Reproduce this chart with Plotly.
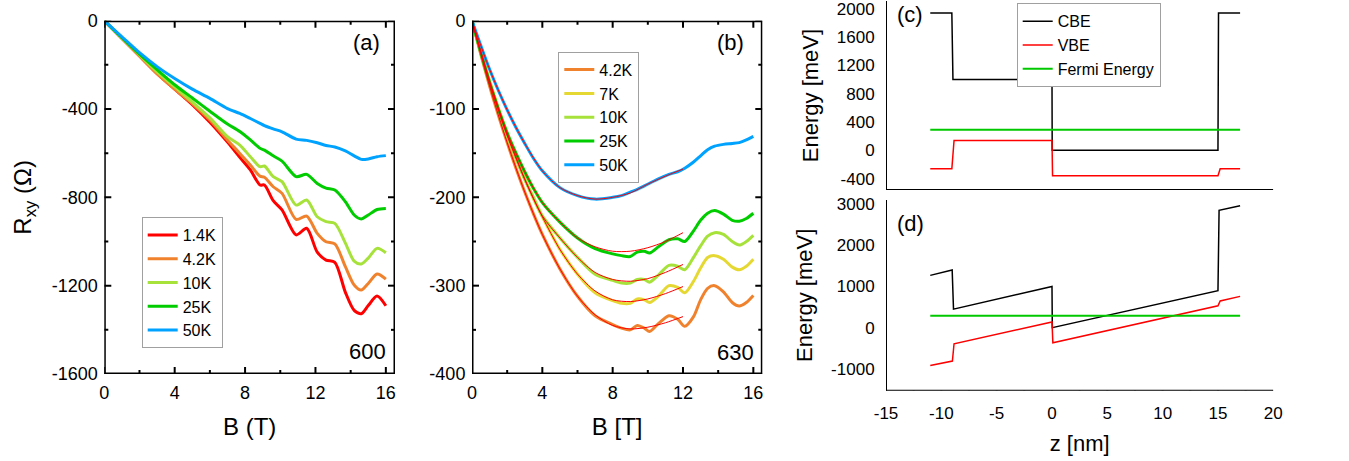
import plotly.graph_objects as go

FONT = "Liberation Sans, Arial, Helvetica, sans-serif"

# ---------------- Panel (a): sample 600 ----------------
B_a = [0, 1, 2, 3, 4, 5, 6, 7, 7.7, 8.3, 8.85, 9.1, 9.6, 10.1, 10.9, 11.5, 12.1,
       12.6, 13.1, 13.7, 14.2, 14.6, 15.0, 15.5, 16]
R_a_1p4K = [0, -80, -160, -240, -310, -380, -460, -550, -619, -676, -744, -744, -815,
            -857, -970, -940, -1048, -1084, -1094, -1230, -1312, -1327, -1290, -1247, -1291]
R_a_4p2K = [0, -80, -160, -240, -310, -375, -450, -540, -601, -654, -704, -709, -752,
            -782, -900, -885, -963, -1001, -1011, -1114, -1197, -1220, -1190, -1147, -1170]
R_a_10K = [0, -78, -155, -232, -300, -368, -440, -525, -563, -616, -661, -658, -706,
           -729, -835, -812, -888, -910, -918, -1007, -1089, -1102, -1075, -1031, -1051]
R_a_25K = [0, -77, -152, -222, -290, -350, -410, -468, -502, -540, -578, -586, -612,
           -636, -706, -696, -737, -758, -767, -820, -880, -898, -880, -855, -850]
R_a_50K = [0, -73, -145, -208, -262, -310, -352, -398, -420, -443, -465, -475, -490,
           -503, -536, -542, -553, -565, -572, -590, -612, -628, -626, -616, -611]
labels_a = ["1.4K", "4.2K", "10K", "25K", "50K"]
colors_a = ["#ff0000", "#f0822e", "#a6e23a", "#00cc00", "#00a2ff"]

# ---------------- Panel (b): sample 630 ----------------
B_b = [0, 0.5, 1, 1.5, 2, 2.5, 3, 3.5, 4, 5, 6, 7, 8, 8.5, 9, 9.4, 9.8, 10.1, 10.6,
       11.2, 11.7, 12.1, 12.6, 13, 13.4, 13.8, 14.3, 14.8, 15.2, 15.6, 16]
R_b_4p2K = [0, -38, -74, -107, -138, -167, -194, -219, -242, -281, -312, -334, -344,
            -348, -350, -345, -348, -352, -343, -334, -338, -346, -335, -316, -303, -300,
            -307, -319, -323, -319, -311]
R_b_7K = [0, -35, -68, -99, -128, -155, -179, -202, -222, -259, -287, -308, -317,
          -320, -320, -315, -316, -319, -312, -300, -302, -308, -295, -280, -268, -266,
          -270, -279, -282, -278, -270]
R_b_10K = [0, -36, -70, -101, -130, -156, -180, -200, -221, -246, -268, -287, -294,
           -297, -297, -293, -293, -296, -288, -277, -278, -282, -268, -255, -244, -240,
           -242, -250, -254, -250, -243]
R_b_25K = [0, -36, -70, -100, -127, -150, -171, -190, -206, -228, -246, -258, -264,
           -266, -267, -262, -261, -263, -256, -248, -247, -250, -238, -226, -218, -215,
           -219, -226, -227, -224, -218]
R_b_50K = [0, -28, -55, -79, -101, -121, -139, -156, -170, -189, -198, -202, -200,
           -198, -194, -191, -187, -184, -179, -174, -171, -167, -160, -153, -146, -142,
           -140, -139, -138, -135, -131]
labels_b = ["4.2K", "7K", "10K", "25K", "50K"]
colors_b = ["#f0822e", "#e6d832", "#a6e23a", "#00cc00", "#00a2ff"]

# fits (thin red lines) for panel (b)
B_fit = [0, 1, 2, 3, 4, 5, 6, 7, 8, 9, 10, 11, 12]
fit_4p2K = [0, -74, -138, -194, -242, -281, -312, -333, -345, -349, -347, -342, -335]
fit_7K = [0, -68, -128, -179, -222, -259, -287, -306, -316, -318, -315, -309, -301]
fit_10K = [0, -70, -130, -180, -221, -246, -268, -285, -293, -295, -292, -285, -276]
fit_25K = [0, -70, -127, -171, -206, -228, -246, -256, -261, -261, -257, -250, -240]
fit_50K = [0, -55, -101, -139, -170, -189, -198, -202, -200, -195, -185, -176, -168]

# ---------------- Panel (c): band edges, flat ----------------
z_c_cbe = [-11, -9.05, -8.95, 0, 0.02, 15, 15.05, 17]
E_c_cbe = [1940, 1940, 1000, 1000, 0, 0, 1940, 1940]
z_c_vbe = [-11, -9.05, -8.85, 0, 0.05, 15, 15.2, 17]
E_c_vbe = [-260, -260, 140, 140, -360, -360, -260, -260]
z_fermi = [-11, 17]
E_fermi = [290, 290]

# ---------------- Panel (d): band edges, with field ----------------
z_d_cbe = [-11, -9.02, -8.9, 0, 0.03, 15, 15.1, 17]
E_d_cbe = [1270, 1400, 450, 1000, 0, 900, 2850, 2960]
z_d_vbe = [-11, -9.0, -8.85, 0, 0.08, 15, 15.2, 17]
E_d_vbe = [-920, -810, -390, 140, -365, 530, 650, 760]

band_labels = ["CBE", "VBE", "Fermi Energy"]
band_colors = ["#000000", "#ff0000", "#00c800"]

# tick values / labels
ticks_a_x = [0, 4, 8, 12, 16]
minor_a_x = [2, 6, 10, 14]
ticks_a_y = [0, -400, -800, -1200, -1600]
minor_a_y = [-200, -600, -1000, -1400]
ticks_b_y = [0, -100, -200, -300, -400]
minor_b_y = [-50, -150, -250, -350]
ticks_c_y = [2000, 1600, 1200, 800, 400, 0, -400]
minor_c_y = [1800, 1400, 1000, 600, 200, -200]
ticks_d_y = [3000, 2000, 1000, 0, -1000]
minor_d_y = [2500, 1500, 500, -500, -1500]
ticks_z = [-15, -10, -5, 0, 5, 10, 15, 20]
minor_z = [-12.5, -7.5, -2.5, 2.5, 7.5, 12.5, 17.5]

# axis ranges
rng_a_x = [0, 16.52]
rng_a_y = [-1600, 0]
rng_b_x = [0, 16.51]
rng_b_y = [-400, 0]
rng_z = [-15, 20]
rng_c_y = [-560, 2110]
rng_d_y = [-1530, 3100]


def lab(v):
    return [str(t) for t in v]


W, H = 1349, 461
ya_dom = [1 - 374 / H, 1 - 20.7 / H]
xa_dom = [104.3 / W, 395 / W]
xb_dom = [472 / W, 762.3 / W]
xc_dom = [886 / W, 1273.3 / W]
yc_dom = [1 - 190 / H, 1 - 1 / H]
yd_dom = [1 - 390.7 / H, 1 - 200 / H]

fig = go.Figure()

for R, name, col in zip([R_a_1p4K, R_a_4p2K, R_a_10K, R_a_25K, R_a_50K], labels_a, colors_a):
    fig.add_trace(go.Scatter(x=B_a, y=R, mode="lines", name=name,
                             line=dict(color=col, width=3, shape="spline", smoothing=0.8),
                             xaxis="x", yaxis="y", legend="legend"))

for R, name, col in zip([R_b_4p2K, R_b_7K, R_b_10K, R_b_25K, R_b_50K], labels_b, colors_b):
    fig.add_trace(go.Scatter(x=B_b, y=R, mode="lines", name=name,
                             line=dict(color=col, width=3, shape="spline", smoothing=0.8),
                             xaxis="x2", yaxis="y2", legend="legend2"))
for F in [fit_4p2K, fit_7K, fit_10K, fit_25K, fit_50K]:
    fig.add_trace(go.Scatter(x=B_fit, y=F, mode="lines", showlegend=False,
                             line=dict(color="#ff0000", width=1, shape="spline", smoothing=0.8),
                             xaxis="x2", yaxis="y2", legend="legend2"))

for (zz, ee), name, col in zip([(z_c_cbe, E_c_cbe), (z_c_vbe, E_c_vbe), (z_fermi, E_fermi)],
                               band_labels, band_colors):
    fig.add_trace(go.Scatter(x=zz, y=ee, mode="lines", name=name,
                             line=dict(color=col, width=2 if col == "#00c800" else 1.5),
                             xaxis="x3", yaxis="y3", legend="legend3"))
for (zz, ee), col in zip([(z_d_cbe, E_d_cbe), (z_d_vbe, E_d_vbe), (z_fermi, E_fermi)], band_colors):
    fig.add_trace(go.Scatter(x=zz, y=ee, mode="lines", showlegend=False,
                             line=dict(color=col, width=2 if col == "#00c800" else 1.5),
                             xaxis="x4", yaxis="y4", legend="legend3"))


# ---- axis frames and tick marks, drawn as line traces on each axis pair ----
def frame_traces(xa, ya, xr, yr, xdom, ydom, xt, xm, yt, ym, boxed, legend_id):
    ux = (xr[1] - xr[0]) / ((xdom[1] - xdom[0]) * W)   # data units per pixel (x)
    uy = (yr[1] - yr[0]) / ((ydom[1] - ydom[0]) * H)   # data units per pixel (y)
    fx, fy = [], []
    if boxed:
        fx += [xr[0], xr[1], xr[1], xr[0], xr[0], None]
        fy += [yr[0], yr[0], yr[1], yr[1], yr[0], None]
    else:
        fx += [xr[0], xr[0], None, xr[0], xr[1], None]
        fy += [yr[1], yr[0], None, yr[0], yr[0], None]
    tx, ty = [], []
    big, small = (7, 4) if boxed else (6, 3)
    for vals, L in ((xt, big), (xm, small)):
        for v in vals:
            if boxed:
                tx += [v, v, None, v, v, None]
                ty += [yr[0], yr[0] + L * uy, None, yr[1], yr[1] - L * uy, None]
            else:
                tx += [v, v, None]
                ty += [yr[0], yr[0] - L * uy, None]
    for vals, L in ((yt, big), (ym, small)):
        for v in vals:
            if boxed:
                tx += [xr[0], xr[0] + L * ux, None, xr[1], xr[1] - L * ux, None]
                ty += [v, v, None, v, v, None]
            else:
                tx += [xr[0], xr[0] - L * ux, None]
                ty += [v, v, None]
    fig.add_trace(go.Scatter(x=fx, y=fy, mode="lines", showlegend=False, hoverinfo="skip",
                             line=dict(color="black", width=3 if boxed else 2),
                             cliponaxis=False, xaxis=xa, yaxis=ya, legend=legend_id))
    fig.add_trace(go.Scatter(x=tx, y=ty, mode="lines", showlegend=False, hoverinfo="skip",
                             line=dict(color="black", width=2),
                             cliponaxis=False, xaxis=xa, yaxis=ya, legend=legend_id))


frame_traces("x", "y", rng_a_x, rng_a_y, xa_dom, ya_dom, ticks_a_x, minor_a_x,
             ticks_a_y, minor_a_y, True, "legend")
frame_traces("x2", "y2", rng_b_x, rng_b_y, xb_dom, ya_dom, ticks_a_x, minor_a_x,
             ticks_b_y, minor_b_y, True, "legend2")
frame_traces("x3", "y3", rng_z, rng_c_y, xc_dom, yc_dom, ticks_z, minor_z,
             ticks_c_y, minor_c_y, False, "legend3")
frame_traces("x4", "y4", rng_z, rng_d_y, xc_dom, yd_dom, ticks_z, minor_z,
             ticks_d_y, minor_d_y, False, "legend3")

tickfont = dict(family=FONT, size=18, color="black")
tickfont_c = dict(family=FONT, size=17, color="black")
CLEAR = "rgba(0,0,0,0)"


def make_axis(domain, rng, tv, anchor, title=None, boxed=True, labels=None,
              standoff=8, tsize=24):
    d = dict(domain=domain, range=rng, anchor=anchor, showline=True, linecolor=CLEAR,
             linewidth=3 if boxed else 2, mirror=False,
             ticks="inside" if boxed else "outside",
             ticklen=7 if boxed else 6, tickwidth=2, tickcolor=CLEAR,
             tickmode="array", tickvals=tv,
             ticktext=labels if labels is not None else lab(tv),
             tickfont=tickfont if boxed else tickfont_c,
             showgrid=False, zeroline=False, automargin=False, ticklabeloverflow="allow")
    if title:
        d["title"] = dict(text=title, font=dict(family=FONT, size=tsize, color="black"),
                          standoff=standoff)
    return d


legend_common = dict(xanchor="left", yanchor="top", bordercolor="#a0a0a0", borderwidth=1,
                     bgcolor="white")

fig.update_layout(
    width=W, height=H,
    margin=dict(l=0, r=0, t=0, b=0),
    paper_bgcolor="white", plot_bgcolor="white",
    font=dict(family=FONT, color="black"),
    xaxis=make_axis(xa_dom, rng_a_x, ticks_a_x, "y", "B (T)", standoff=17),
    yaxis=make_axis(ya_dom, rng_a_y, ticks_a_y, "x", "R<sub>xy</sub> (Ω)", standoff=14),
    xaxis2=make_axis(xb_dom, rng_b_x, ticks_a_x, "y2", "B [T]", standoff=17),
    yaxis2=make_axis(ya_dom, rng_b_y, ticks_b_y, "x2"),
    xaxis3=make_axis(xc_dom, rng_z, ticks_z, "y3", boxed=False,
                     labels=[" "] * len(ticks_z)),
    yaxis3=make_axis(yc_dom, rng_c_y, ticks_c_y, "x3", "Energy [meV]",
                     boxed=False, standoff=12, tsize=22),
    xaxis4=make_axis(xc_dom, rng_z, ticks_z, "y4", "z [nm]", boxed=False,
                     standoff=14, tsize=22),
    yaxis4=make_axis(yd_dom, rng_d_y, ticks_d_y, "x4", "Energy [meV]",
                     boxed=False, standoff=12, tsize=22),
    legend=dict(x=141.7 / W, y=1 - 217 / H, font=dict(family=FONT, size=16, color="black"),
                **legend_common),
    legend2=dict(x=558.3 / W, y=1 - 51.7 / H, font=dict(family=FONT, size=16, color="black"),
                 **legend_common),
    legend3=dict(x=1016.7 / W, y=1 - 3.3 / H, font=dict(family=FONT, size=16, color="black"),
                 **legend_common),
    showlegend=True,
)

ann = [("(a)", 366, 42.7, 22), ("600", 367.3, 351.7, 22), ("(b)", 730, 42.7, 22),
       ("630", 735, 352.7, 22), ("(c)", 910, 15, 22), ("(d)", 910, 223.3, 22)]
for text, x, y, s in ann:
    fig.add_annotation(text=text, x=x / W, y=1 - y / H, xref="paper", yref="paper",
                       showarrow=False, xanchor="center", yanchor="middle",
                       font=dict(family=FONT, size=s, color="black"))

fig.write_html("out.html", config={"displayModeBar": False},
               post_script="document.body.style.margin='0';")
